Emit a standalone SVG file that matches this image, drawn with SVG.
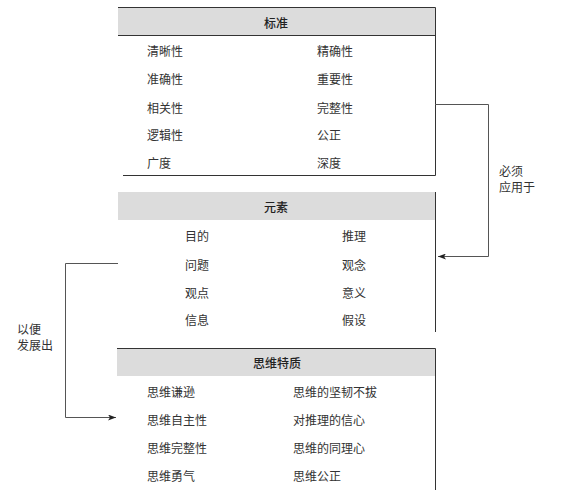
<svg xmlns="http://www.w3.org/2000/svg" width="566" height="498" viewBox="0 0 566 498">
<defs>
<style>
text{font-family:"Noto Sans CJK SC","Noto Sans CJK JP",sans-serif;font-size:12px;fill:#333;dominant-baseline:central}
.h{fill:#dcdcdc}
.b{stroke:#333;stroke-width:1;fill:none}
.c{stroke:#555;stroke-width:1;fill:none}
.hd{text-anchor:middle;font-weight:500;fill:#222}
</style>
<marker id="ah" markerWidth="8" markerHeight="6" refX="8" refY="3" orient="auto" markerUnits="userSpaceOnUse">
<path d="M0,0 L8,3 L0,6 L2,3 Z" fill="#222"/>
</marker>
</defs>
<rect width="566" height="498" fill="#fff"/>
<g id="standards">
<rect class="h" x="118" y="7" width="317" height="28"/>
<path class="b" d="M118,7.5 H435.5 V175.5 H123"/>
<line class="b" x1="118" y1="35.5" x2="435" y2="35.5" stroke="#555"/>
<text class="hd" x="276" y="22">标准</text>
<text x="147" y="50">清晰性</text><text x="317" y="50">精确性</text>
<text x="147" y="78">准确性</text><text x="317" y="78">重要性</text>
<text x="147" y="107">相关性</text><text x="317" y="107">完整性</text>
<text x="147" y="134">逻辑性</text><text x="317" y="134">公正</text>
<text x="147" y="162">广度</text><text x="317" y="162">深度</text>
</g>
<g id="elements">
<rect class="h" x="118" y="192" width="317" height="28"/>
<path class="b" d="M435.5,192 V332"/>
<text class="hd" x="276" y="206">元素</text>
<text x="185" y="235">目的</text><text x="342" y="235">推理</text>
<text x="185" y="264">问题</text><text x="342" y="264">观念</text>
<text x="185" y="292">观点</text><text x="342" y="292">意义</text>
<text x="185" y="319">信息</text><text x="342" y="319">假设</text>
</g>
<g id="traits">
<rect class="h" x="117" y="348" width="318" height="28"/>
<path class="b" d="M117,348.5 H435.5 V490"/>
<text class="hd" x="277" y="362">思维特质</text>
<text x="147" y="391">思维谦逊</text><text x="293" y="391">思维的坚韧不拔</text>
<text x="147" y="419">思维自主性</text><text x="293" y="419">对推理的信心</text>
<text x="147" y="447">思维完整性</text><text x="293" y="447">思维的同理心</text>
<text x="147" y="475">思维勇气</text><text x="293" y="475">思维公正</text>
</g>
<g id="connectors">
<path class="c" d="M435,104.5 H488.5 V256.5 H438" marker-end="url(#ah)"/>
<path class="c" d="M118,263.5 H65.5 V417.5 H116" marker-end="url(#ah)"/>
</g>
<g id="labels">
<text x="499" y="170">必须</text>
<text x="499" y="186">应用于</text>
<text x="17" y="328">以便</text>
<text x="17" y="344">发展出</text>
</g>
</svg>
